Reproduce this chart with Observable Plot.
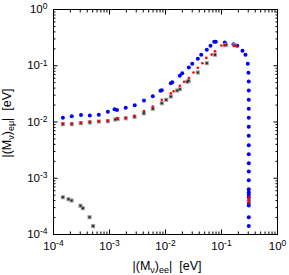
<!DOCTYPE html>
<html><head><meta charset="utf-8">
<script src="https://cdn.jsdelivr.net/npm/d3@7"></script>
<script src="https://cdn.jsdelivr.net/npm/@observablehq/plot@0.6"></script>
<style>body{margin:0;background:#fff} svg{font-family:"Liberation Sans",Arial,sans-serif}</style>
</head><body><div id="chart"></div>
<script>
// decade tick values and labels
const majorTicks = [1e-4, 1e-3, 1e-2, 1e-1, 1];
const tickExponents = ["-4", "-3", "-2", "-1", "0"];

// blue series
const blueX = [1.47e-4, 2.12e-4, 3.1e-4, 4.45e-4, 6.44e-4, 9.33e-4, 1.23e-3, 1.36e-3, 1.95e-3, 2.82e-3,
  4.13e-3, 5.93e-3, 8.14e-3, 8.59e-3, 0.01245, 0.0132, 0.018, 0.0199, 0.0261, 0.030,
  0.0378, 0.0434, 0.0546, 0.0636, 0.0741, 0.079, 0.1146, 0.164, 0.1905, 0.237,
  0.268, 0.295, 0.303,
  0.307, 0.307, 0.307, 0.307, 0.307, 0.307, 0.307, 0.307, 0.307, 0.307,
  0.307, 0.307, 0.307, 0.307, 0.307, 0.307, 0.307, 0.307, 0.307, 0.307, 0.307];
const blueY = [0.0119, 0.01267, 0.0133, 0.01305, 0.01349, 0.0152, 0.0169, 0.01634, 0.01788, 0.0199,
  0.0241, 0.0288, 0.0359, 0.0368, 0.049, 0.051, 0.0663, 0.0737, 0.0931, 0.108,
  0.133, 0.157, 0.192, 0.226, 0.267, 0.267, 0.259, 0.242, 0.226, 0.1845,
  0.157, 0.108, 0.075,
  0.0525, 0.0363, 0.0248, 0.0172, 0.0119, 0.00822, 0.00569, 0.00387, 0.00268, 0.00185,
  0.00132, 0.00092, 0.00064, 0.000565, 0.000508, 0.000455, 0.000407, 0.000366, 0.000328, 0.000203, 0.000141];

// red series
const redX = [1.47e-4, 2.12e-4, 3.07e-4, 4.45e-4, 6.44e-4, 9.33e-4, 1.37e-3, 1.95e-3, 2.8e-3, 4.13e-3,
  5.93e-3, 8.59e-3, 0.01245, 0.014, 0.018, 0.0215, 0.0261, 0.0316, 0.0378, 0.0455,
  0.0536, 0.0667, 0.0765, 0.0995, 0.1146, 0.1665, 0.184,
  0.307, 0.307, 0.307];
const redY = [0.0094, 0.0094, 0.0098, 0.0102, 0.01033, 0.01063, 0.0117, 0.0119, 0.0129, 0.0157,
  0.0189, 0.0248, 0.0325, 0.0353, 0.044, 0.0519, 0.0606, 0.0759, 0.092, 0.111,
  0.138, 0.158, 0.181, 0.229, 0.234, 0.226, 0.225,
  0.000455, 0.00041, 0.00037];

// gray (black) series
const grayX = [1.47e-4, 2.12e-4, 3.07e-4, 4.45e-4, 6.44e-4, 9.33e-4, 1.27e-3, 1.4e-3, 1.95e-3, 2.8e-3,
  4.1e-3, 5.93e-3, 8.59e-3, 0.0103, 0.01245, 0.0162, 0.018, 0.0245, 0.0259, 0.0378,
  0.0546, 0.0765, 0.1146, 0.121, 0.170,
  0.307,
  1.47e-4, 1.85e-4, 2.1e-4, 3.03e-4, 3.34e-4, 4.4e-4, 5.1e-4];
const grayY = [0.00914, 0.00914, 0.00952, 0.0098, 0.0102, 0.01033, 0.01107, 0.0113, 0.01164, 0.01237,
  0.0143, 0.0172, 0.0216, 0.0248, 0.0284, 0.0363, 0.0383, 0.0519, 0.054, 0.0759,
  0.111, 0.1566, 0.232, 0.236, 0.232,
  0.0004,
  0.00046, 0.000424, 0.000402, 0.000324, 0.000294, 0.000203, 0.000141];

const minorTicks = [];
for (const d of majorTicks.slice(0, -1)) for (let k = 2; k <= 9; k++) minorTicks.push(d * k);

const blue = blueX.map((x, i) => ({x, y: blueY[i]}));
const red = redX.map((x, i) => ({x, y: redY[i]}));
const gray = grayX.map((x, i) => ({x, y: grayY[i]}));

const fmt = d => "10^" + tickExponents[majorTicks.indexOf(d)];
const none = () => "";
const MAJ = 4.5, MIN = 2.5;

const plot = Plot.plot({
  width: 289, height: 275,
  marginLeft: 53, marginRight: 12, marginTop: 9, marginBottom: 41,
  style: {fontFamily: "Liberation Sans, Arial, sans-serif", fontSize: "11px", color: "black", background: "white"},
  x: {type: "log", domain: [1e-4, 1]},
  y: {type: "log", domain: [1e-4, 1]},
  marks: [
    Plot.axisX({anchor: "bottom", ticks: majorTicks, tickSize: -MAJ, tickPadding: MAJ + 7, tickFormat: fmt, label: null, fontSize: 11.5}),
    Plot.axisX({anchor: "bottom", ticks: minorTicks, tickSize: -MIN, tickFormat: none, label: null}),
    Plot.axisX({anchor: "top", ticks: majorTicks, tickSize: -MAJ, tickFormat: none, label: null}),
    Plot.axisX({anchor: "top", ticks: minorTicks, tickSize: -MIN, tickFormat: none, label: null}),
    Plot.axisY({anchor: "left", ticks: majorTicks, tickSize: -MAJ, tickPadding: MAJ + 6, tickFormat: fmt, label: null, fontSize: 11.5}),
    Plot.axisY({anchor: "left", ticks: minorTicks, tickSize: -MIN, tickFormat: none, label: null}),
    Plot.axisY({anchor: "right", ticks: majorTicks, tickSize: -MAJ, tickFormat: none, label: null}),
    Plot.axisY({anchor: "right", ticks: minorTicks, tickSize: -MIN, tickFormat: none, label: null}),
    Plot.dot(blue, {x: "x", y: "y", r: 2, fill: "#0000ff", stroke: "none"}),
    Plot.dot(gray, {x: "x", y: "y", symbol: "square", r: 2.3, fill: "#9a9a9a", stroke: "none"}),
    Plot.dot(gray, {x: "x", y: "y", symbol: "square", r: 1.1, fill: "#222", stroke: "none"}),
    Plot.dot(red, {x: "x", y: "y", r: 1.3, fill: "#ff0000", stroke: "none"}),
    Plot.frame({stroke: "black", strokeWidth: 1})
  ]
});

const svg = d3.select(plot);
svg.selectAll("text").each(function() {
  const t = this.textContent;
  if (t.startsWith("10^")) {
    const e = t.slice(3);
    const sel = d3.select(this);
    sel.text("10");
    sel.append("tspan").attr("dy", "-0.45em").attr("font-size", "8.5px").text(e);
  }
});
// axis titles
function title(sel, sub2) {
  sel.attr("font-size", "12.5px").attr("fill", "black").attr("text-anchor", "middle").style("white-space", "pre");
  sel.append("tspan").text("|(M");
  sel.append("tspan").attr("font-size", "9px").attr("dy", "3").text("ν");
  sel.append("tspan").attr("dy", "-3").text(")");
  sel.append("tspan").attr("font-size", "9px").attr("dy", "3").text(sub2);
  sel.append("tspan").attr("dy", "-3").text("|  [eV]");
}
title(svg.append("text").attr("x", 167).attr("y", 270), "ee");
title(svg.append("text").attr("transform", "translate(11,123) rotate(-90)"), "eμ");

document.getElementById("chart").appendChild(plot);
</script>
</body></html>
